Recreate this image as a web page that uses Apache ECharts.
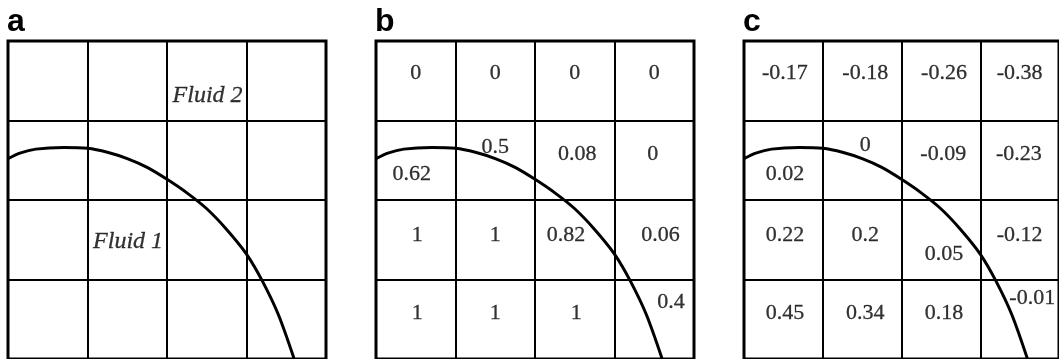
<!DOCTYPE html>
<html>
<head>
<meta charset="utf-8">
<script src="https://cdn.jsdelivr.net/npm/echarts@6/dist/echarts.min.js"></script>
<style>
html,body{margin:0;padding:0;background:#fff;}
#chart{width:1059px;height:359px;}
</style>
</head>
<body>
<div id="chart"></div>
<script>
// Panel letters
const panelLetters = ['a', 'b', 'c'];

// Interface curve (grid units: 0..4 in x and y)
const curveX = [0, 0.15, 0.35, 0.7, 1.0, 1.25, 1.5, 1.75, 2.0, 2.25, 2.5, 2.75, 3.0, 3.2, 3.4, 3.6];
const curveY = [2.52, 2.59, 2.64, 2.66, 2.65, 2.60, 2.52, 2.41, 2.26, 2.09, 1.89, 1.63, 1.32, 0.98, 0.56, 0.0];

// Panel a labels
const aText = ['Fluid 2', 'Fluid 1'];
const aX = [2.51, 1.51];
const aY = [3.31, 1.47];

// Panel b: volume fraction values (row by row, top to bottom)
const bText = ['0', '0', '0', '0',
               '0.62', '0.5', '0.08', '0',
               '1', '1', '0.82', '0.06',
               '1', '1', '1', '0.4'];
const bX = [0.5, 1.5, 2.5, 3.5,
            0.45, 1.5, 2.53, 3.48,
            0.52, 1.5, 2.39, 3.58,
            0.52, 1.5, 2.52, 3.71];
const bY = [3.59, 3.59, 3.59, 3.59,
            2.33, 2.67, 2.58, 2.57,
            1.56, 1.56, 1.56, 1.56,
            0.57, 0.57, 0.57, 0.72];

// Panel c: values
const cText = ['-0.17', '-0.18', '-0.26', '-0.38',
               '0.02', '0', '-0.09', '-0.23',
               '0.22', '0.2', '0.05', '-0.12',
               '0.45', '0.34', '0.18', '-0.01'];
const cX = [0.52, 1.54, 2.54, 3.5,
            0.52, 1.54, 2.53, 3.49,
            0.52, 1.54, 2.54, 3.5,
            0.52, 1.54, 2.54, 3.66];
const cY = [3.59, 3.59, 3.59, 3.59,
            2.33, 2.69, 2.58, 2.58,
            1.56, 1.56, 1.32, 1.56,
            0.57, 0.57, 0.57, 0.77];

const chart = echarts.init(document.getElementById('chart'), null, {renderer: 'canvas'});

const gridLefts = [8, 376, 744];
const grids = gridLefts.map(l => ({
  left: l, top: 41, width: 318, height: 319,
  show: true, borderWidth: 3, borderColor: '#000', backgroundColor: '#fff',
  containLabel: false
}));

function axisCfg(i) {
  return {
    type: 'value', gridIndex: i, min: 0, max: 4, interval: 1,
    axisLine: {show: false}, axisTick: {show: false}, axisLabel: {show: false},
    splitLine: {show: true, lineStyle: {color: '#000', width: 2}}
  };
}

const series = [];
for (let i = 0; i < 3; i++) {
  series.push({
    type: 'line', xAxisIndex: i, yAxisIndex: i,
    data: curveX.map((x, k) => [x, curveY[k]]),
    smooth: 0.3, showSymbol: false, symbol: 'none',
    lineStyle: {color: '#000', width: 3}, silent: true, z: 5
  });
}

const serifFont = '"Times New Roman", "Liberation Serif", Times, serif';

function textSeries(i, xs, ys, texts, italic, size) {
  return {
    type: 'scatter', xAxisIndex: i, yAxisIndex: i,
    symbolSize: 0, silent: true, z: 6,
    itemStyle: {color: '#000'},
    data: texts.map((t, k) => [xs[k], ys[k], t]),
    label: {
      show: true, position: 'inside',
      formatter: p => p.data[2],
      fontFamily: serifFont,
      fontStyle: italic ? 'italic' : 'normal',
      fontSize: size, color: '#000',
      textBorderWidth: 0.3, textBorderColor: '#000'
    }
  };
}
series.push(textSeries(0, aX, aY, aText, true, 24));
series.push(textSeries(1, bX, bY, bText, false, 22));
series.push(textSeries(2, cX, cY, cText, false, 22));

const option = {
  backgroundColor: '#fff',
  animation: false,
  title: panelLetters.map((t, i) => ({
    text: t, left: gridLefts[i] - 1, top: 6, padding: 0,
    textStyle: {fontFamily: '"Liberation Sans", Arial, sans-serif', fontWeight: 'bold', fontSize: 32, color: '#000'}
  })),
  grid: grids,
  xAxis: [0, 1, 2].map(axisCfg),
  yAxis: [0, 1, 2].map(axisCfg),
  series: series
};
chart.setOption(option);
</script>
</body>
</html>
